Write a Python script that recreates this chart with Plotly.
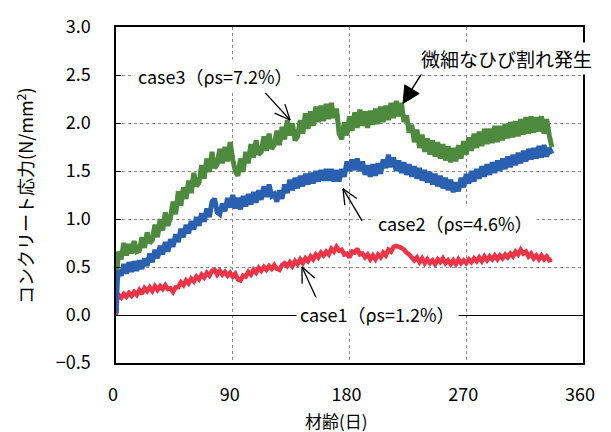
import math
import plotly.graph_objects as go

# Age of concrete (days) at each reading
days = [0, 1] + list(range(2, 337, 2))

# Concrete stress (N/mm2) for each case
case3 = [0.02, 0.50, 0.66, 0.58, 0.75, 0.62, 0.74, 0.64, 0.77, 0.66,
         0.67, 0.81, 0.70, 0.86, 0.75, 0.78, 0.94, 0.81, 1.00, 0.88,
         1.07, 0.93, 1.02, 1.18, 1.05, 1.29, 1.14, 1.33, 1.21, 1.40,
         1.27, 1.48, 1.34, 1.38, 1.56, 1.42, 1.63, 1.49, 1.70, 1.53,
         1.57, 1.73, 1.58, 1.75, 1.60, 1.80, 1.62, 1.50, 1.45, 1.63,
         1.49, 1.70, 1.58, 1.78, 1.64, 1.82, 1.67, 1.70, 1.86, 1.71,
         1.89, 1.73, 1.77, 1.92, 1.77, 1.96, 1.83, 2.03, 1.87, 2.00,
         1.82, 1.86, 2.03, 1.89, 2.10, 1.94, 2.12, 1.97, 2.17, 2.01,
         2.18, 2.02, 2.20, 2.04, 2.21, 2.05, 2.15, 1.89, 1.83, 2.01,
         1.87, 2.07, 1.92, 2.11, 1.95, 2.14, 1.97, 2.12, 1.95, 2.13,
         1.98, 2.15, 1.99, 2.17, 2.01, 2.18, 2.03, 2.21, 2.05, 2.23,
         2.07, 2.21, 2.01, 2.08, 1.90, 1.98, 1.80, 1.93, 1.74, 1.88,
         1.70, 1.84, 1.67, 1.82, 1.65, 1.80, 1.63, 1.78, 1.61, 1.76,
         1.59, 1.74, 1.60, 1.77, 1.63, 1.81, 1.67, 1.85, 1.71, 1.89,
         1.74, 1.91, 1.76, 1.94, 1.78, 1.94, 1.79, 1.97, 1.80, 1.97,
         1.82, 1.99, 1.84, 2.01, 1.85, 2.02, 1.86, 2.04, 1.88, 2.06,
         1.89, 2.07, 1.90, 2.06, 1.91, 2.07, 1.89, 2.04, 1.87, 1.75]

case2 = [0.02, 0.36, 0.46, 0.41, 0.53, 0.43, 0.55, 0.45, 0.56, 0.46,
         0.57, 0.48, 0.59, 0.51, 0.64, 0.55, 0.68, 0.59, 0.72, 0.63,
         0.76, 0.66, 0.79, 0.71, 0.84, 0.76, 0.90, 0.81, 0.94, 0.85,
         0.98, 0.89, 1.02, 0.93, 1.06, 0.97, 1.11, 1.02, 1.18, 1.21,
         1.07, 1.05, 1.16, 1.08, 1.22, 1.12, 1.25, 1.11, 1.22, 1.10,
         1.24, 1.13, 1.26, 1.15, 1.28, 1.17, 1.30, 1.20, 1.34, 1.23,
         1.36, 1.24, 1.26, 1.18, 1.30, 1.21, 1.36, 1.27, 1.41, 1.30,
         1.43, 1.32, 1.45, 1.34, 1.47, 1.36, 1.48, 1.37, 1.50, 1.39,
         1.51, 1.40, 1.52, 1.40, 1.52, 1.39, 1.51, 1.39, 1.52, 1.44,
         1.60, 1.50, 1.62, 1.51, 1.63, 1.50, 1.60, 1.46, 1.56, 1.44,
         1.57, 1.45, 1.58, 1.47, 1.62, 1.53, 1.67, 1.54, 1.64, 1.50,
         1.61, 1.48, 1.59, 1.46, 1.57, 1.44, 1.55, 1.42, 1.53, 1.40,
         1.51, 1.38, 1.49, 1.36, 1.47, 1.34, 1.45, 1.32, 1.43, 1.30,
         1.41, 1.28, 1.38, 1.29, 1.43, 1.33, 1.47, 1.37, 1.50, 1.39,
         1.52, 1.42, 1.55, 1.44, 1.57, 1.46, 1.59, 1.48, 1.61, 1.50,
         1.63, 1.52, 1.65, 1.54, 1.67, 1.56, 1.69, 1.58, 1.71, 1.60,
         1.73, 1.62, 1.74, 1.63, 1.76, 1.64, 1.77, 1.65, 1.74, 1.68]

case1 = [0.00, 0.17, 0.21, 0.18, 0.22, 0.19, 0.23, 0.20, 0.24, 0.21,
         0.26, 0.22, 0.28, 0.25, 0.29, 0.25, 0.30, 0.26, 0.30, 0.27,
         0.31, 0.27, 0.28, 0.24, 0.29, 0.29, 0.34, 0.31, 0.36, 0.33,
         0.38, 0.35, 0.40, 0.37, 0.42, 0.39, 0.44, 0.41, 0.46, 0.47,
         0.42, 0.46, 0.42, 0.45, 0.41, 0.44, 0.40, 0.43, 0.37, 0.36,
         0.41, 0.40, 0.45, 0.42, 0.47, 0.44, 0.49, 0.46, 0.50, 0.47,
         0.51, 0.48, 0.52, 0.48, 0.47, 0.52, 0.54, 0.51, 0.55, 0.51,
         0.56, 0.53, 0.58, 0.54, 0.59, 0.56, 0.61, 0.58, 0.63, 0.60,
         0.65, 0.62, 0.66, 0.63, 0.69, 0.66, 0.71, 0.67, 0.68, 0.63,
         0.64, 0.60, 0.66, 0.65, 0.69, 0.63, 0.64, 0.60, 0.63, 0.58,
         0.62, 0.58, 0.63, 0.60, 0.65, 0.62, 0.68, 0.66, 0.71, 0.72,
         0.71, 0.70, 0.68, 0.65, 0.63, 0.60, 0.57, 0.60, 0.55, 0.59,
         0.54, 0.58, 0.54, 0.57, 0.53, 0.58, 0.55, 0.59, 0.54, 0.57,
         0.53, 0.57, 0.53, 0.58, 0.54, 0.57, 0.54, 0.58, 0.55, 0.59,
         0.56, 0.60, 0.56, 0.61, 0.57, 0.61, 0.58, 0.62, 0.58, 0.62,
         0.59, 0.63, 0.60, 0.64, 0.61, 0.66, 0.63, 0.68, 0.64, 0.66,
         0.61, 0.64, 0.59, 0.62, 0.58, 0.62, 0.58, 0.61, 0.57, 0.58]

x_ticks = [0, 90, 180, 270, 360]
y_ticks = [-0.5, 0.0, 0.5, 1.0, 1.5, 2.0, 2.5, 3.0]

FONT = "Noto Sans CJK JP"
X_RANGE = (0, 360)
Y_RANGE = (-0.5, 3.0)
PLOT_W, PLOT_H = 467, 343

fig = go.Figure()
for vals, color, w in [(case1, "#ee3346", 4.5), (case3, "#4e8a3d", 5),
                       (case2, "#2a60b0", 5)]:
    fig.add_trace(go.Scatter(x=days, y=vals, mode="lines",
                             line=dict(color=color, width=w, simplify=False),
                             showlegend=False, hoverinfo="skip"))

# pixel scale of the axes, used to build arrow heads of a fixed size
sx = PLOT_W / (X_RANGE[1] - X_RANGE[0])
sy = PLOT_H / (Y_RANGE[1] - Y_RANGE[0])


def _unit(tail, head):
    dx = (tail[0] - head[0]) * sx
    dy = (tail[1] - head[1]) * sy
    n = math.hypot(dx, dy)
    return dx / n, dy / n


def _offset(pt, px, py):
    return pt[0] + px / sx, pt[1] + py / sy


def open_arrow(tail, head, length=17, spread=24):
    """Shaft plus two barbs (open V head) drawn as line shapes."""
    line = dict(color="black", width=1.3)
    shapes = [dict(type="line", xref="x", yref="y", x0=tail[0], y0=tail[1],
                   x1=head[0], y1=head[1], line=line, layer="above")]
    ux, uy = _unit(tail, head)
    for sgn in (1, -1):
        a = math.radians(spread) * sgn
        bx = ux * math.cos(a) - uy * math.sin(a)
        by = ux * math.sin(a) + uy * math.cos(a)
        end = _offset(head, bx * length, by * length)
        shapes.append(dict(type="line", xref="x", yref="y",
                           x0=head[0], y0=head[1], x1=end[0], y1=end[1],
                           line=line, layer="above"))
    return shapes


def filled_arrow(tail, head, length=17, half=8.5):
    """Shaft with a solid triangular head."""
    ux, uy = _unit(tail, head)
    base = _offset(head, ux * length, uy * length)
    c1 = _offset(base, -uy * half, ux * half)
    c2 = _offset(base, uy * half, -ux * half)
    path = (f"M {head[0]},{head[1]} L {c1[0]},{c1[1]} "
            f"L {c2[0]},{c2[1]} Z")
    return [
        dict(type="line", xref="x", yref="y", x0=tail[0], y0=tail[1],
             x1=base[0], y1=base[1], line=dict(color="black", width=1.5),
             layer="above"),
        dict(type="path", xref="x", yref="y", path=path, fillcolor="black",
             line=dict(color="black", width=1), layer="above"),
    ]


shapes = []
shapes += open_arrow((114.9, 2.316), (134.2, 2.031))
shapes += open_arrow((189.7, 0.980), (175.0, 1.316))
shapes += open_arrow((157.3, 0.092), (143.4, 0.500))
shapes += filled_arrow((235.9, 2.520), (221.3, 2.204))

label_font = dict(family=FONT, size=18, color="black")
annotations = [
    dict(x=76.7, y=2.49, xref="x", yref="y", text="case3（ρs=7.2%）",
         showarrow=False, bgcolor="white", borderpad=3, font=label_font),
    dict(x=261.4, y=0.96, xref="x", yref="y", text="case2（ρs=4.6%）",
         showarrow=False, bgcolor="white", borderpad=3, font=label_font),
    dict(x=201.6, y=0.01, xref="x", yref="y", text="case1（ρs=1.2%）",
         showarrow=False, bgcolor="white", borderpad=3, font=label_font),
    dict(x=301.0, y=2.673, xref="x", yref="y", text="微細なひび割れ発生",
         showarrow=False, bgcolor="white", borderpad=2,
         font=dict(family=FONT, size=19, color="black")),
    dict(x=-0.195, y=0.5, xref="paper", yref="paper",
         text="コンクリート応力(N/mm<sup>2</sup>)", textangle=-90,
         showarrow=False, xanchor="center", yanchor="middle",
         font=dict(family=FONT, size=18, color="black")),
    dict(x=170, y=-0.172, xref="x", yref="paper", text="材齢(日)",
         showarrow=False, xanchor="center", yanchor="middle",
         font=dict(family=FONT, size=17, color="black")),
]

grid = dict(showgrid=True, gridcolor="#8a8a8a", griddash="dot", gridwidth=1,
            showline=True, mirror=True, linecolor="black", linewidth=1.5)

fig.update_layout(
    width=611, height=432,
    margin=dict(l=116, r=28, t=20, b=69),
    paper_bgcolor="white", plot_bgcolor="white",
    font=dict(family=FONT, size=18, color="black"),
    shapes=shapes, annotations=annotations,
    xaxis=dict(range=list(X_RANGE), tickvals=x_ticks, ticks="",
               ticklabelstandoff=15, ticklabelshift=-3,
               zeroline=False, **grid),
    yaxis=dict(range=list(Y_RANGE), tickvals=y_ticks, tickformat=".1f",
               ticks="inside", ticklen=5, tickcolor="black",
               ticklabelstandoff=20, zeroline=True, zerolinecolor="black",
               zerolinewidth=1.2, **grid),
)

fig.write_html("out.html")
